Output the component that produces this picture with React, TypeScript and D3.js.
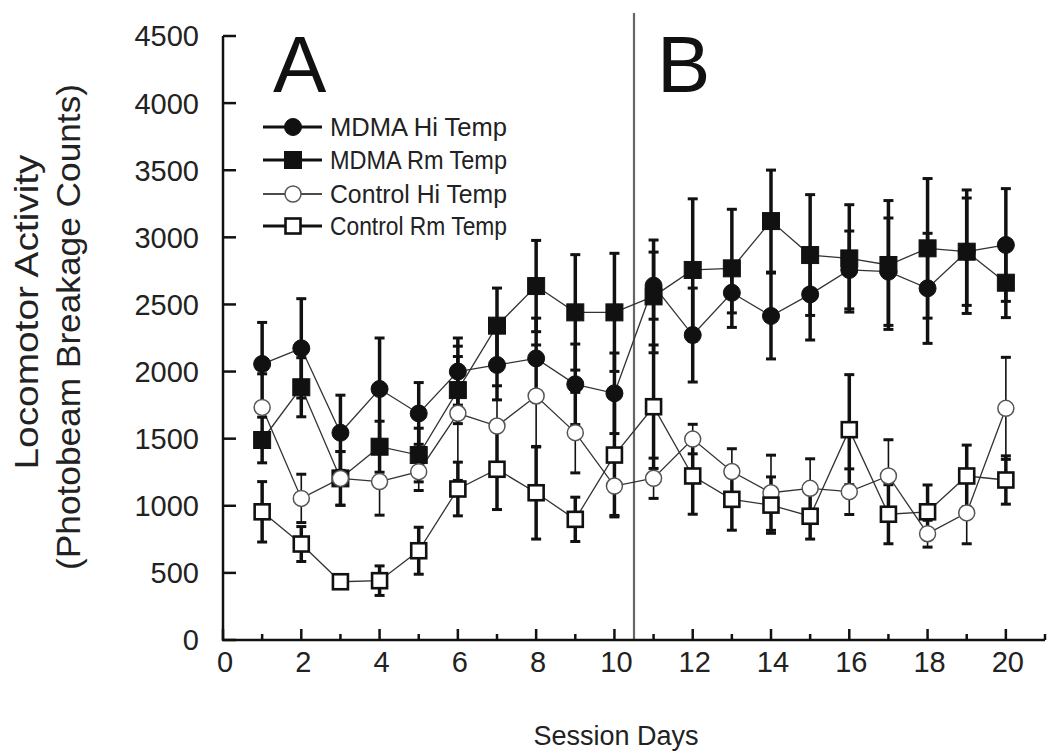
import React from "react";
import * as d3 from "d3";

const days = [1, 2, 3, 4, 5, 6, 7, 8, 9, 10, 11, 12, 13, 14, 15, 16, 17, 18, 19, 20];
const mdmaHi = [2056, 2173, 1544, 1870, 1688, 2000, 2049, 2098, 1905, 1838, 2640, 2272, 2587, 2414, 2575, 2757, 2744, 2620, 2893, 2943];
const mdmaHiSE = [310, 370, 280, 380, 230, 250, 260, 300, 300, 300, 250, 350, 150, 320, 340, 290, 400, 410, 400, 420];
const mdmaRm = [1490, 1883, 1204, 1440, 1378, 1862, 2342, 2637, 2441, 2441, 2560, 2757, 2769, 3121, 2868, 2843, 2794, 2918, 2893, 2662];
const mdmaRmSE = [170, 220, 200, 190, 200, 250, 280, 340, 430, 440, 420, 530, 440, 380, 450, 400, 480, 520, 460, 260];
const controlHi = [1733, 1055, 1204, 1180, 1254, 1689, 1594, 1818, 1545, 1147, 1205, 1497, 1255, 1097, 1130, 1105, 1222, 792, 947, 1726];
const controlHiSE = [250, 180, 200, 250, 140, 500, 300, 380, 300, 230, 150, 110, 170, 280, 220, 170, 270, 100, 230, 380];
const controlRm = [955, 715, 434, 442, 665, 1125, 1272, 1097, 899, 1378, 1738, 1222, 1048, 1005, 922, 1567, 937, 955, 1222, 1192];
const controlRmSE = [225, 130, 40, 110, 175, 200, 300, 345, 165, 450, 460, 285, 230, 210, 170, 410, 220, 200, 230, 180];

const yTicks = [0, 500, 1000, 1500, 2000, 2500, 3000, 3500, 4000, 4500];
const xMajorTicks = [0, 2, 4, 6, 8, 10, 12, 14, 16, 18, 20];
const xMinorTicks = [1, 3, 5, 7, 9, 11, 13, 15, 17, 19, 21];
const seriesNames = ["MDMA Hi Temp", "MDMA Rm Temp", "Control Hi Temp", "Control Rm Temp"];
const dividerDay = 10.5;

const FONT = "'Liberation Sans', Arial, Helvetica, sans-serif";

type Series = {
  name: string;
  values: number[];
  se: number[];
  shape: "circle" | "square";
  filled: boolean;
  barWidth: number;
};

const series: Series[] = [
  { name: seriesNames[0], values: mdmaHi, se: mdmaHiSE, shape: "circle", filled: true, barWidth: 3.5 },
  { name: seriesNames[1], values: mdmaRm, se: mdmaRmSE, shape: "square", filled: true, barWidth: 3.5 },
  { name: seriesNames[2], values: controlHi, se: controlHiSE, shape: "circle", filled: false, barWidth: 1.6 },
  { name: seriesNames[3], values: controlRm, se: controlRmSE, shape: "square", filled: false, barWidth: 3.5 },
];

function Marker({ s, cx, cy }: { s: Series; cx: number; cy: number }) {
  if (s.shape === "circle") {
    return s.filled ? (
      <circle cx={cx} cy={cy} r={8.5} fill="#111" stroke="#111" strokeWidth={1} />
    ) : (
      <circle cx={cx} cy={cy} r={8} fill="#fff" stroke="#555" strokeWidth={1.5} />
    );
  }
  return s.filled ? (
    <rect x={cx - 8.5} y={cy - 8.5} width={17} height={17} fill="#111" stroke="#111" strokeWidth={1} />
  ) : (
    <rect x={cx - 7.5} y={cy - 7.5} width={15} height={15} fill="#fff" stroke="#111" strokeWidth={2.6} />
  );
}

export default function App() {
  const x = d3.scaleLinear().domain([0, 21]).range([223, 1045]);
  const y = d3.scaleLinear().domain([0, 4500]).range([640, 36]);
  const line = d3
    .line<number>()
    .x((_, i) => x(days[i]))
    .y((v) => y(v));

  const legendRows = [127, 160, 194, 226];

  return (
    <svg
      width={1050}
      height={754}
      style={{ position: "absolute", left: 0, top: 0, background: "#fff" }}
      fontFamily={FONT}
    >
      <rect x={0} y={0} width={1050} height={754} fill="#fff" />

      {/* divider */}
      <line x1={x(dividerDay)} x2={x(dividerDay)} y1={13} y2={640} stroke="#666" strokeWidth={2.2} />

      {/* axes */}
      <line x1={223} x2={223} y1={y(4500)} y2={y(0) + 1} stroke="#111" strokeWidth={2.5} />
      <line x1={222} x2={x(21)} y1={y(0)} y2={y(0)} stroke="#111" strokeWidth={2.5} />
      {yTicks.map((t) => (
        <g key={"yt" + t}>
          <line x1={223} x2={236} y1={y(t)} y2={y(t)} stroke="#111" strokeWidth={2.5} />
          <text x={199} y={y(t)} dy="0.36em" textAnchor="end" fontSize={29} fill="#222">
            {t}
          </text>
        </g>
      ))}
      {xMajorTicks.map((t) => (
        <g key={"xt" + t}>
          <line x1={x(t)} x2={x(t)} y1={y(0)} y2={y(0) - 11} stroke="#111" strokeWidth={2.5} />
          <text x={x(t) + 2} y={672} textAnchor="middle" fontSize={29} fill="#222">
            {t}
          </text>
        </g>
      ))}
      {xMinorTicks.map((t) => (
        <line key={"xm" + t} x1={x(t)} x2={x(t)} y1={y(0)} y2={y(0) - 6} stroke="#111" strokeWidth={2.5} />
      ))}

      {/* axis titles */}
      <text
        transform={`translate(38,312) rotate(-90)`}
        textAnchor="middle"
        fontSize={33}
        fill="#222"
        textLength={315}
        lengthAdjust="spacingAndGlyphs"
      >
        Locomotor Activity
      </text>
      <text
        transform={`translate(80,327) rotate(-90)`}
        textAnchor="middle"
        fontSize={33}
        fill="#222"
        textLength={486}
        lengthAdjust="spacingAndGlyphs"
      >
        (Photobeam Breakage Counts)
      </text>
      <text x={616} y={745} textAnchor="middle" fontSize={27} fill="#222">
        Session Days
      </text>

      {/* panel labels */}
      <text x={273} y={92} fontSize={80} fill="#111">
        A
      </text>
      <text x={657} y={92} fontSize={80} fill="#111">
        B
      </text>

      {/* connecting lines */}
      {series.map((s) => (
        <path key={"l" + s.name} d={line(s.values) || ""} fill="none" stroke="#333" strokeWidth={1.3} />
      ))}

      {/* error bars */}
      {series.map((s) =>
        s.values.map((v, i) => {
          const cx = x(days[i]);
          const top = y(v + s.se[i]);
          const bot = y(v - s.se[i]);
          return (
            <g key={"e" + s.name + i} stroke="#111" strokeWidth={s.barWidth}>
              <line x1={cx} x2={cx} y1={top} y2={bot} />
              <line x1={cx - 5} x2={cx + 5} y1={top} y2={top} strokeWidth={3} />
              <line x1={cx - 5} x2={cx + 5} y1={bot} y2={bot} strokeWidth={3} />
            </g>
          );
        })
      )}

      {/* markers */}
      {series.map((s) =>
        s.values.map((v, i) => <Marker key={"m" + s.name + i} s={s} cx={x(days[i])} cy={y(v)} />)
      )}

      {/* legend */}
      {series.map((s, i) => (
        <g key={"lg" + s.name}>
          <line
            x1={263}
            x2={322}
            y1={legendRows[i]}
            y2={legendRows[i]}
            stroke="#111"
            strokeWidth={s.barWidth === 3.5 ? 3 : 1.5}
          />
          <Marker s={s} cx={293} cy={legendRows[i]} />
          <text x={330} y={legendRows[i]} dy="0.36em" fontSize={26} fill="#222" textLength={177} lengthAdjust="spacingAndGlyphs">
            {s.name}
          </text>
        </g>
      ))}
    </svg>
  );
}
